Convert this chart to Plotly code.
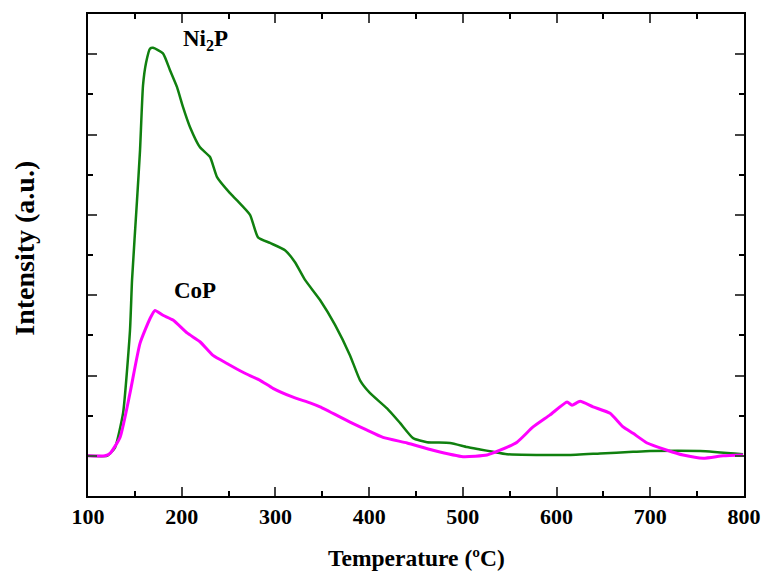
import plotly.graph_objects as go

# Ni2P (green) TPD curve
ni2p_T = [100, 120.3, 123.5, 128.8, 137.4, 144.8, 147.0, 152.3, 155.5, 158.7, 161.9, 166.2, 169.4,
          180.0, 187.5, 195.0, 201.4, 208.9, 219.5, 230.2, 237.7, 251.5, 259.0, 272.9, 281.4,
          294.2, 310.2, 320.9, 331.6, 347.6, 363.6, 379.6, 390.3, 401.0, 419.1, 432.9, 446.9,
          461.8, 486.3, 504.5, 518.4, 532.2, 547.2, 611.2, 646.4, 681.6, 699.8, 753.1, 799.0]
ni2p_I = [0.50, 0.50, 0.53, 0.60, 1.03, 2.06, 2.69, 3.68, 4.30, 5.11, 5.39, 5.57, 5.58,
          5.51, 5.30, 5.09, 4.84, 4.59, 4.34, 4.22, 3.97, 3.77, 3.68, 3.50, 3.22,
          3.15, 3.06, 2.91, 2.69, 2.44, 2.13, 1.75, 1.44, 1.28, 1.09, 0.91, 0.72,
          0.67, 0.66, 0.61, 0.58, 0.55, 0.52, 0.51, 0.53, 0.55, 0.56, 0.56, 0.52]

# CoP (magenta) TPD curve
cop_T = [100, 118.1, 123.5, 134.2, 144.8, 155.5, 166.2, 171.5, 180.0, 190.7, 205.7, 219.5,
         233.4, 248.3, 265.4, 283.6, 297.4, 318.8, 336.9, 347.6, 379.6, 397.8, 414.8, 440.5,
         468.2, 500.2, 525.8, 539.7, 557.8, 574.9, 593.1, 611.2, 616.5, 625.1, 638.9, 657.1,
         671.0, 681.6, 696.6, 717.9, 735.0, 756.4, 777.7, 799.0]
cop_I = [0.50, 0.50, 0.53, 0.73, 1.28, 1.90, 2.21, 2.31, 2.25, 2.19, 2.03, 1.92,
         1.75, 1.65, 1.54, 1.44, 1.34, 1.23, 1.16, 1.11, 0.92, 0.82, 0.73, 0.66,
         0.57, 0.49, 0.51, 0.57, 0.67, 0.86, 1.01, 1.17, 1.13, 1.18, 1.11, 1.03,
         0.86, 0.78, 0.66, 0.57, 0.51, 0.47, 0.50, 0.51]

x_ticks = [100, 200, 300, 400, 500, 600, 700, 800]
font = "Liberation Serif"

fig = go.Figure()
fig.add_trace(go.Scatter(x=ni2p_T, y=ni2p_I, mode="lines", line_shape="spline",
                         line=dict(color="#10800f", width=2.5, smoothing=0.5), showlegend=False))
fig.add_trace(go.Scatter(x=cop_T, y=cop_I, mode="lines", line_shape="spline",
                         line=dict(color="#ff00ff", width=3, smoothing=0.5), showlegend=False))

fig.add_annotation(x=225, y=5.68, xref="x", yref="y", text="Ni<sub>2</sub>P",
                   showarrow=False, font=dict(family=font, size=23, color="black", weight="bold"))
fig.add_annotation(x=214, y=2.56, xref="x", yref="y", text="CoP",
                   showarrow=False, font=dict(family=font, size=23, color="black", weight="bold"))

# axis titles
fig.add_annotation(x=0.5, y=-0.129, xref="paper", yref="paper", text="Temperature (ºC)",
                   showarrow=False, xanchor="center", yanchor="middle",
                   font=dict(family=font, size=23.5, color="black", weight="bold"))
fig.add_annotation(x=-0.096, y=0.513, xref="paper", yref="paper", text="Intensity (a.u.)",
                   showarrow=False, xanchor="center", yanchor="middle", textangle=-90,
                   font=dict(family=font, size=28, color="black", weight="bold"))

fig.update_layout(
    width=765, height=575,
    margin=dict(l=88, r=21, t=14, b=79, autoexpand=False),
    plot_bgcolor="white", paper_bgcolor="white",
    font=dict(family=font, color="black"),
    xaxis=dict(range=[100, 800], tickvals=x_ticks, ticks="inside", ticklen=9, tickwidth=1.5,
               showline=True, linewidth=2, linecolor="black", mirror="ticks",
               showgrid=False, zeroline=False, automargin=False,
               tickfont=dict(family=font, size=22, color="black", weight="bold"),
               minor=dict(tickvals=[150, 250, 350, 450, 550, 650, 750], ticks="inside",
                          ticklen=5, tickwidth=1.5, tickcolor="black")),
    yaxis=dict(range=[0, 6], tickvals=[0.5, 1.5, 2.5, 3.5, 4.5, 5.5], ticks="inside", ticklen=9,
               tickwidth=1.5, showticklabels=False, automargin=False,
               showline=True, linewidth=2, linecolor="black", mirror="ticks",
               showgrid=False, zeroline=False,
               minor=dict(tickvals=[1, 2, 3, 4, 5], ticks="inside",
                          ticklen=5, tickwidth=1.5, tickcolor="black")),
)

fig.write_html("out.html")
